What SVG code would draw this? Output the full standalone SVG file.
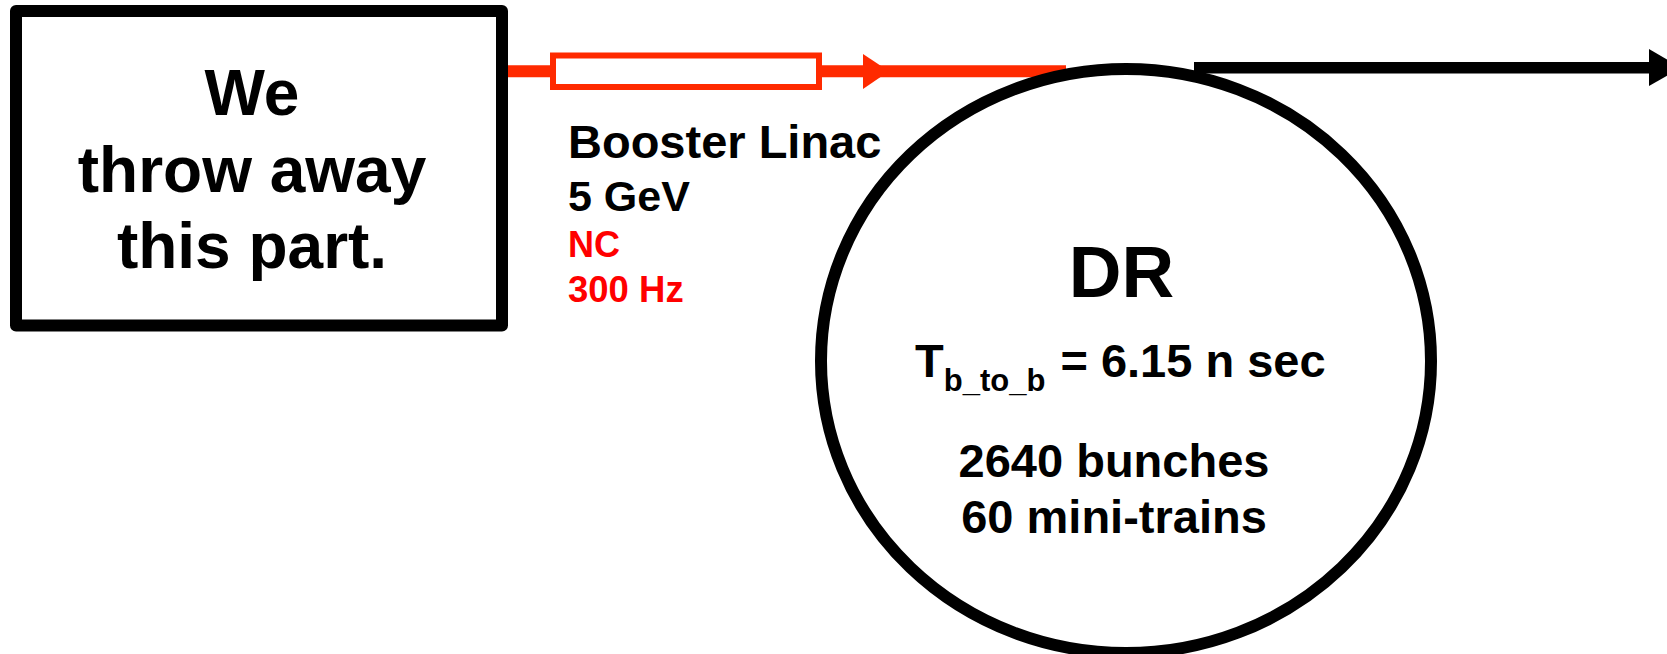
<svg xmlns="http://www.w3.org/2000/svg" width="1667" height="654" viewBox="0 0 1667 654">
<style>
  .t { font-family: "Liberation Sans", Arial, sans-serif; font-weight: bold; fill: #000; }
  .red { fill: #ff0000; }
  .blk { stroke: #000; fill: none; }
</style>
<rect width="1667" height="654" fill="#fff"/>
<g id="connectors">
  <line x1="507" y1="71.3" x2="1066" y2="71.3" stroke="#ff2a00" stroke-width="12"/>
  <rect x="553" y="55.5" width="266" height="31.5" fill="#fff" stroke="#ff2a00" stroke-width="6"/>
  <polygon points="863,54 889,71.3 863,89" fill="#ff2a00"/>
  <line x1="1194" y1="67.8" x2="1652" y2="67.8" stroke="#000" stroke-width="11.5"/>
  <polygon points="1649,49 1681,67.8 1649,86" fill="#000"/>
</g>
<g id="box">
  <rect x="16" y="11" width="486" height="314.5" class="blk" stroke-width="12" stroke-linejoin="round"/>
  <text class="t" font-size="64" text-anchor="middle" x="252" y="115">We</text>
  <text class="t" font-size="64" text-anchor="middle" x="252" y="191.7">throw away</text>
  <text class="t" font-size="64" text-anchor="middle" x="252" y="268">this part.</text>
</g>
<g id="linac-label">
  <text class="t" font-size="47" x="568" y="158">Booster Linac</text>
  <text class="t" font-size="43" x="568" y="211">5 GeV</text>
  <text class="t red" font-size="36" x="568" y="256.5">NC</text>
  <text class="t red" font-size="36.5" x="568" y="301.5">300 Hz</text>
</g>
<g id="dr">
  <ellipse cx="1126" cy="361" rx="305" ry="292" class="blk" stroke-width="12"/>
  <text class="t" font-size="73" text-anchor="middle" x="1121.5" y="297">DR</text>
  <text class="t" font-size="47" x="915" y="377">T<tspan font-size="31" dy="14">b_to_b</tspan><tspan dy="-14" dx="2"> = 6.15 n sec</tspan></text>
  <text class="t" font-size="47" text-anchor="middle" x="1114" y="477">2640 bunches</text>
  <text class="t" font-size="47" text-anchor="middle" x="1114" y="533">60 mini-trains</text>
</g>
</svg>
